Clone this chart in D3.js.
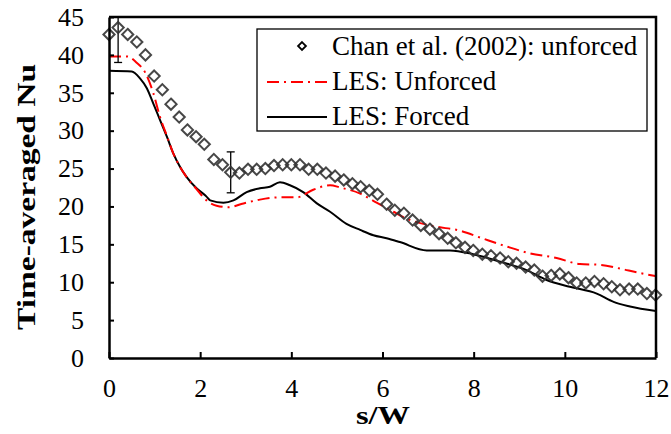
<!DOCTYPE html>
<html>
<head>
<meta charset="utf-8">
<script src="https://cdn.jsdelivr.net/npm/d3@7"></script>
<style>
  body { margin: 0; background: #fff; }
  svg text { font-family: "Liberation Serif", "Times New Roman", Times, serif; }
</style>
</head>
<body>
<div class="graphContainer"></div>
<script>
// size of the page and the plot frame
const w = 671;
const h = 434;
const m = {top: 17, right: 15, bottom: 76, left: 109};

// Chan et al. (2002) measurements, unforced
const chanS = [0, 0.2, 0.41, 0.61, 0.8, 0.99, 1.17, 1.36, 1.54, 1.72, 1.91, 2.09, 2.3, 2.49, 2.67, 2.86,
  3.05, 3.24, 3.43, 3.62, 3.81, 4.0, 4.19, 4.38, 4.57, 4.76, 4.96, 5.15, 5.34, 5.52, 5.71, 5.89,
  6.09, 6.27, 6.47, 6.66, 6.84, 7.04, 7.24, 7.43, 7.61, 7.81, 7.99, 8.19, 8.38, 8.58, 8.76, 8.94,
  9.14, 9.33, 9.51, 9.7, 9.89, 10.08, 10.26, 10.46, 10.65, 10.85, 11.03, 11.21, 11.41, 11.6, 11.8, 11.99];
const chanNu = [42.7, 43.6, 42.7, 41.7, 40.0, 37.2, 35.4, 33.5, 31.8, 30.1, 29.2, 28.2, 26.2, 25.5, 24.5, 24.4,
  24.9, 24.9, 25.0, 25.4, 25.5, 25.5, 25.5, 24.9, 24.9, 24.4, 24.0, 23.5, 23.0, 22.6, 22.1, 21.6,
  20.3, 19.5, 19.1, 18.2, 17.5, 17.0, 16.4, 15.8, 15.2, 14.6, 14.2, 13.7, 13.5, 13.2, 12.7, 12.5,
  12.0, 11.6, 10.8, 10.9, 11.1, 10.6, 9.9, 9.9, 10.1, 9.8, 9.4, 9.0, 9.1, 9.1, 8.5, 8.3];

// error bars on two of the measured points
const errS = [0.2, 2.67];
const errNu = [43.6, 24.5];
const errHalf = [4.6, 2.7];

// LES, unforced
const lesUS = [0, 0.4, 0.6, 0.8, 0.97, 1.12, 1.27, 1.41, 1.56, 1.7, 1.92, 2.14, 2.36, 2.62, 2.95, 3.31, 3.75, 4.12, 4.48,
  4.85, 5.07, 5.51, 5.87, 6.24, 6.53, 7.12, 7.7, 8.14, 8.73, 9.24, 9.82, 10.33, 10.77, 11.21, 11.58, 12.0];
const lesUNu = [39.8, 39.8, 39.0, 37.6, 35.0, 31.8, 29.3, 27.0, 25.2, 23.9, 22.3, 20.8, 20.1, 19.9, 20.4, 20.9, 21.2, 21.2, 22.2,
  22.8, 22.5, 21.7, 20.5, 19.3, 18.4, 17.4, 16.8, 15.9, 14.7, 13.8, 13.2, 12.4, 12.3, 11.8, 11.3, 10.8];

// LES, forced
const lesFS = [0, 0.5, 0.68, 0.83, 0.97, 1.12, 1.27, 1.41, 1.56, 1.7, 1.92, 2.14, 2.22, 2.51, 2.73, 3.02, 3.31,
  3.53, 3.75, 3.97, 4.26, 4.56, 4.85, 5.21, 5.51, 5.8, 6.09, 6.38, 6.97, 7.48, 7.99, 8.58, 9.16, 9.6,
  10.11, 10.7, 11.07, 11.43, 12.0];
const lesFNu = [37.9, 37.8, 36.9, 35.6, 33.6, 31.4, 29.2, 27.0, 25.2, 23.9, 22.4, 21.3, 20.8, 20.5, 20.8, 21.9, 22.4,
  22.6, 23.2, 22.8, 21.9, 20.4, 19.3, 17.7, 16.9, 16.2, 15.8, 15.3, 14.2, 14.2, 13.7, 12.7, 11.6, 10.3,
  9.4, 8.5, 7.4, 6.8, 6.2];

const xTicks = [0, 2, 4, 6, 8, 10, 12];
const yTicks = [0, 5, 10, 15, 20, 25, 30, 35, 40, 45];
const legendLabels = ["Chan et al. (2002): unforced", "LES: Unforced", "LES: Forced"];

const svg = d3.select(".graphContainer").append("svg")
  .attr("width", w)
  .attr("height", h);

const xScale = d3.scaleLinear().domain([0, 12]).range([m.left, w - m.right]);
const yScale = d3.scaleLinear().domain([0, 45]).range([h - m.bottom, m.top]);

// clip so the error bar stays inside the frame
svg.append("clipPath").attr("id", "plotClip")
  .append("rect")
  .attr("x", m.left).attr("y", m.top)
  .attr("width", w - m.left - m.right).attr("height", h - m.top - m.bottom);

const plot = svg.append("g").attr("clip-path", "url(#plotClip)");

const line = d3.line().x(d => xScale(d[0])).y(d => yScale(d[1])).curve(d3.curveMonotoneX);

// forced LES
plot.append("path")
  .datum(d3.zip(lesFS, lesFNu))
  .attr("d", line)
  .attr("fill", "none")
  .attr("stroke", "#000")
  .attr("stroke-width", 2);

// unforced LES
plot.append("path")
  .datum(d3.zip(lesUS, lesUNu))
  .attr("d", line)
  .attr("fill", "none")
  .attr("stroke", "#ff0000")
  .attr("stroke-width", 2)
  .attr("stroke-dasharray", "12,5,2,5");

// error bars
const eb = plot.selectAll(".err").data(d3.range(errS.length)).enter().append("g");
eb.append("line")
  .attr("x1", i => xScale(errS[i])).attr("x2", i => xScale(errS[i]))
  .attr("y1", i => yScale(errNu[i] - errHalf[i])).attr("y2", i => yScale(errNu[i] + errHalf[i]))
  .attr("stroke", "#000").attr("stroke-width", 1.3);
eb.append("line")
  .attr("x1", i => xScale(errS[i]) - 4).attr("x2", i => xScale(errS[i]) + 4)
  .attr("y1", i => yScale(errNu[i] - errHalf[i])).attr("y2", i => yScale(errNu[i] - errHalf[i]))
  .attr("stroke", "#000").attr("stroke-width", 1.3);
eb.append("line")
  .attr("x1", i => xScale(errS[i]) - 4).attr("x2", i => xScale(errS[i]) + 4)
  .attr("y1", i => yScale(errNu[i] + errHalf[i])).attr("y2", i => yScale(errNu[i] + errHalf[i]))
  .attr("stroke", "#000").attr("stroke-width", 1.3);

// measured points as open diamonds
const diamond = d3.symbol().type(d3.symbolDiamond2).size(80);
svg.selectAll(".pt").data(d3.zip(chanS, chanNu)).enter().append("path")
  .attr("d", diamond)
  .attr("transform", d => "translate(" + xScale(d[0]) + "," + yScale(d[1]) + ")")
  .attr("fill", "none")
  .attr("stroke", "#333")
  .attr("stroke-opacity", 0.9)
  .attr("stroke-width", 2);

// axes with inward ticks
const yAxis = d3.axisLeft(yScale).tickValues(yTicks).tickSizeInner(-5).tickSizeOuter(0).tickPadding(25);
const xAxis = d3.axisBottom(xScale).tickValues(xTicks).tickSizeInner(-6).tickSizeOuter(0).tickPadding(21);

const gy = svg.append("g").attr("transform", "translate(" + m.left + ",0)").call(yAxis);
const gx = svg.append("g").attr("transform", "translate(0," + (h - m.bottom) + ")").call(xAxis);
[gx, gy].forEach(g => {
  g.attr("font-family", null);
  g.select(".domain").attr("stroke", "#000").attr("stroke-width", 2.5);
  g.selectAll(".tick line").attr("stroke", "#000").attr("stroke-width", 2);
  g.selectAll(".tick text").attr("font-size", 26).attr("fill", "#000");
});

// top and right frame
svg.append("path")
  .attr("d", "M" + m.left + "," + m.top + "H" + (w - m.right) + "V" + (h - m.bottom))
  .attr("fill", "none").attr("stroke", "#000").attr("stroke-width", 2.5);

// axis titles (stretched along their length, as in the source figure)
svg.append("text")
  .attr("transform", "rotate(-90)")
  .attr("x", -330)
  .attr("y", 35)
  .attr("font-size", 26).attr("font-weight", "bold")
  .attr("textLength", 266).attr("lengthAdjust", "spacingAndGlyphs")
  .text("Time-averaged Nu");

svg.append("text")
  .attr("x", 356)
  .attr("y", 424)
  .attr("font-size", 26).attr("font-weight", "bold")
  .attr("textLength", 54).attr("lengthAdjust", "spacingAndGlyphs")
  .text("s/W");

// legend
const lg = svg.append("g").attr("transform", "translate(257,29)");
lg.append("rect").attr("width", 390).attr("height", 102)
  .attr("fill", "#fff").attr("stroke", "#000").attr("stroke-width", 1.3);

lg.append("path")
  .attr("d", d3.symbol().type(d3.symbolDiamond2).size(40))
  .attr("transform", "translate(45,17)")
  .attr("fill", "none").attr("stroke", "#000").attr("stroke-width", 1.8);
lg.append("line").attr("x1", 10).attr("x2", 70).attr("y1", 53).attr("y2", 53)
  .attr("stroke", "#ff0000").attr("stroke-width", 2).attr("stroke-dasharray", "12,5,2,5");
lg.append("line").attr("x1", 10).attr("x2", 70).attr("y1", 88).attr("y2", 88)
  .attr("stroke", "#000").attr("stroke-width", 2);

lg.selectAll(".lt").data(legendLabels).enter().append("text")
  .attr("x", 75)
  .attr("y", (d, i) => 17 + i * 35)
  .attr("dy", "0.35em")
  .attr("font-size", 27)
  .text(d => d);
</script>
</body>
</html>
